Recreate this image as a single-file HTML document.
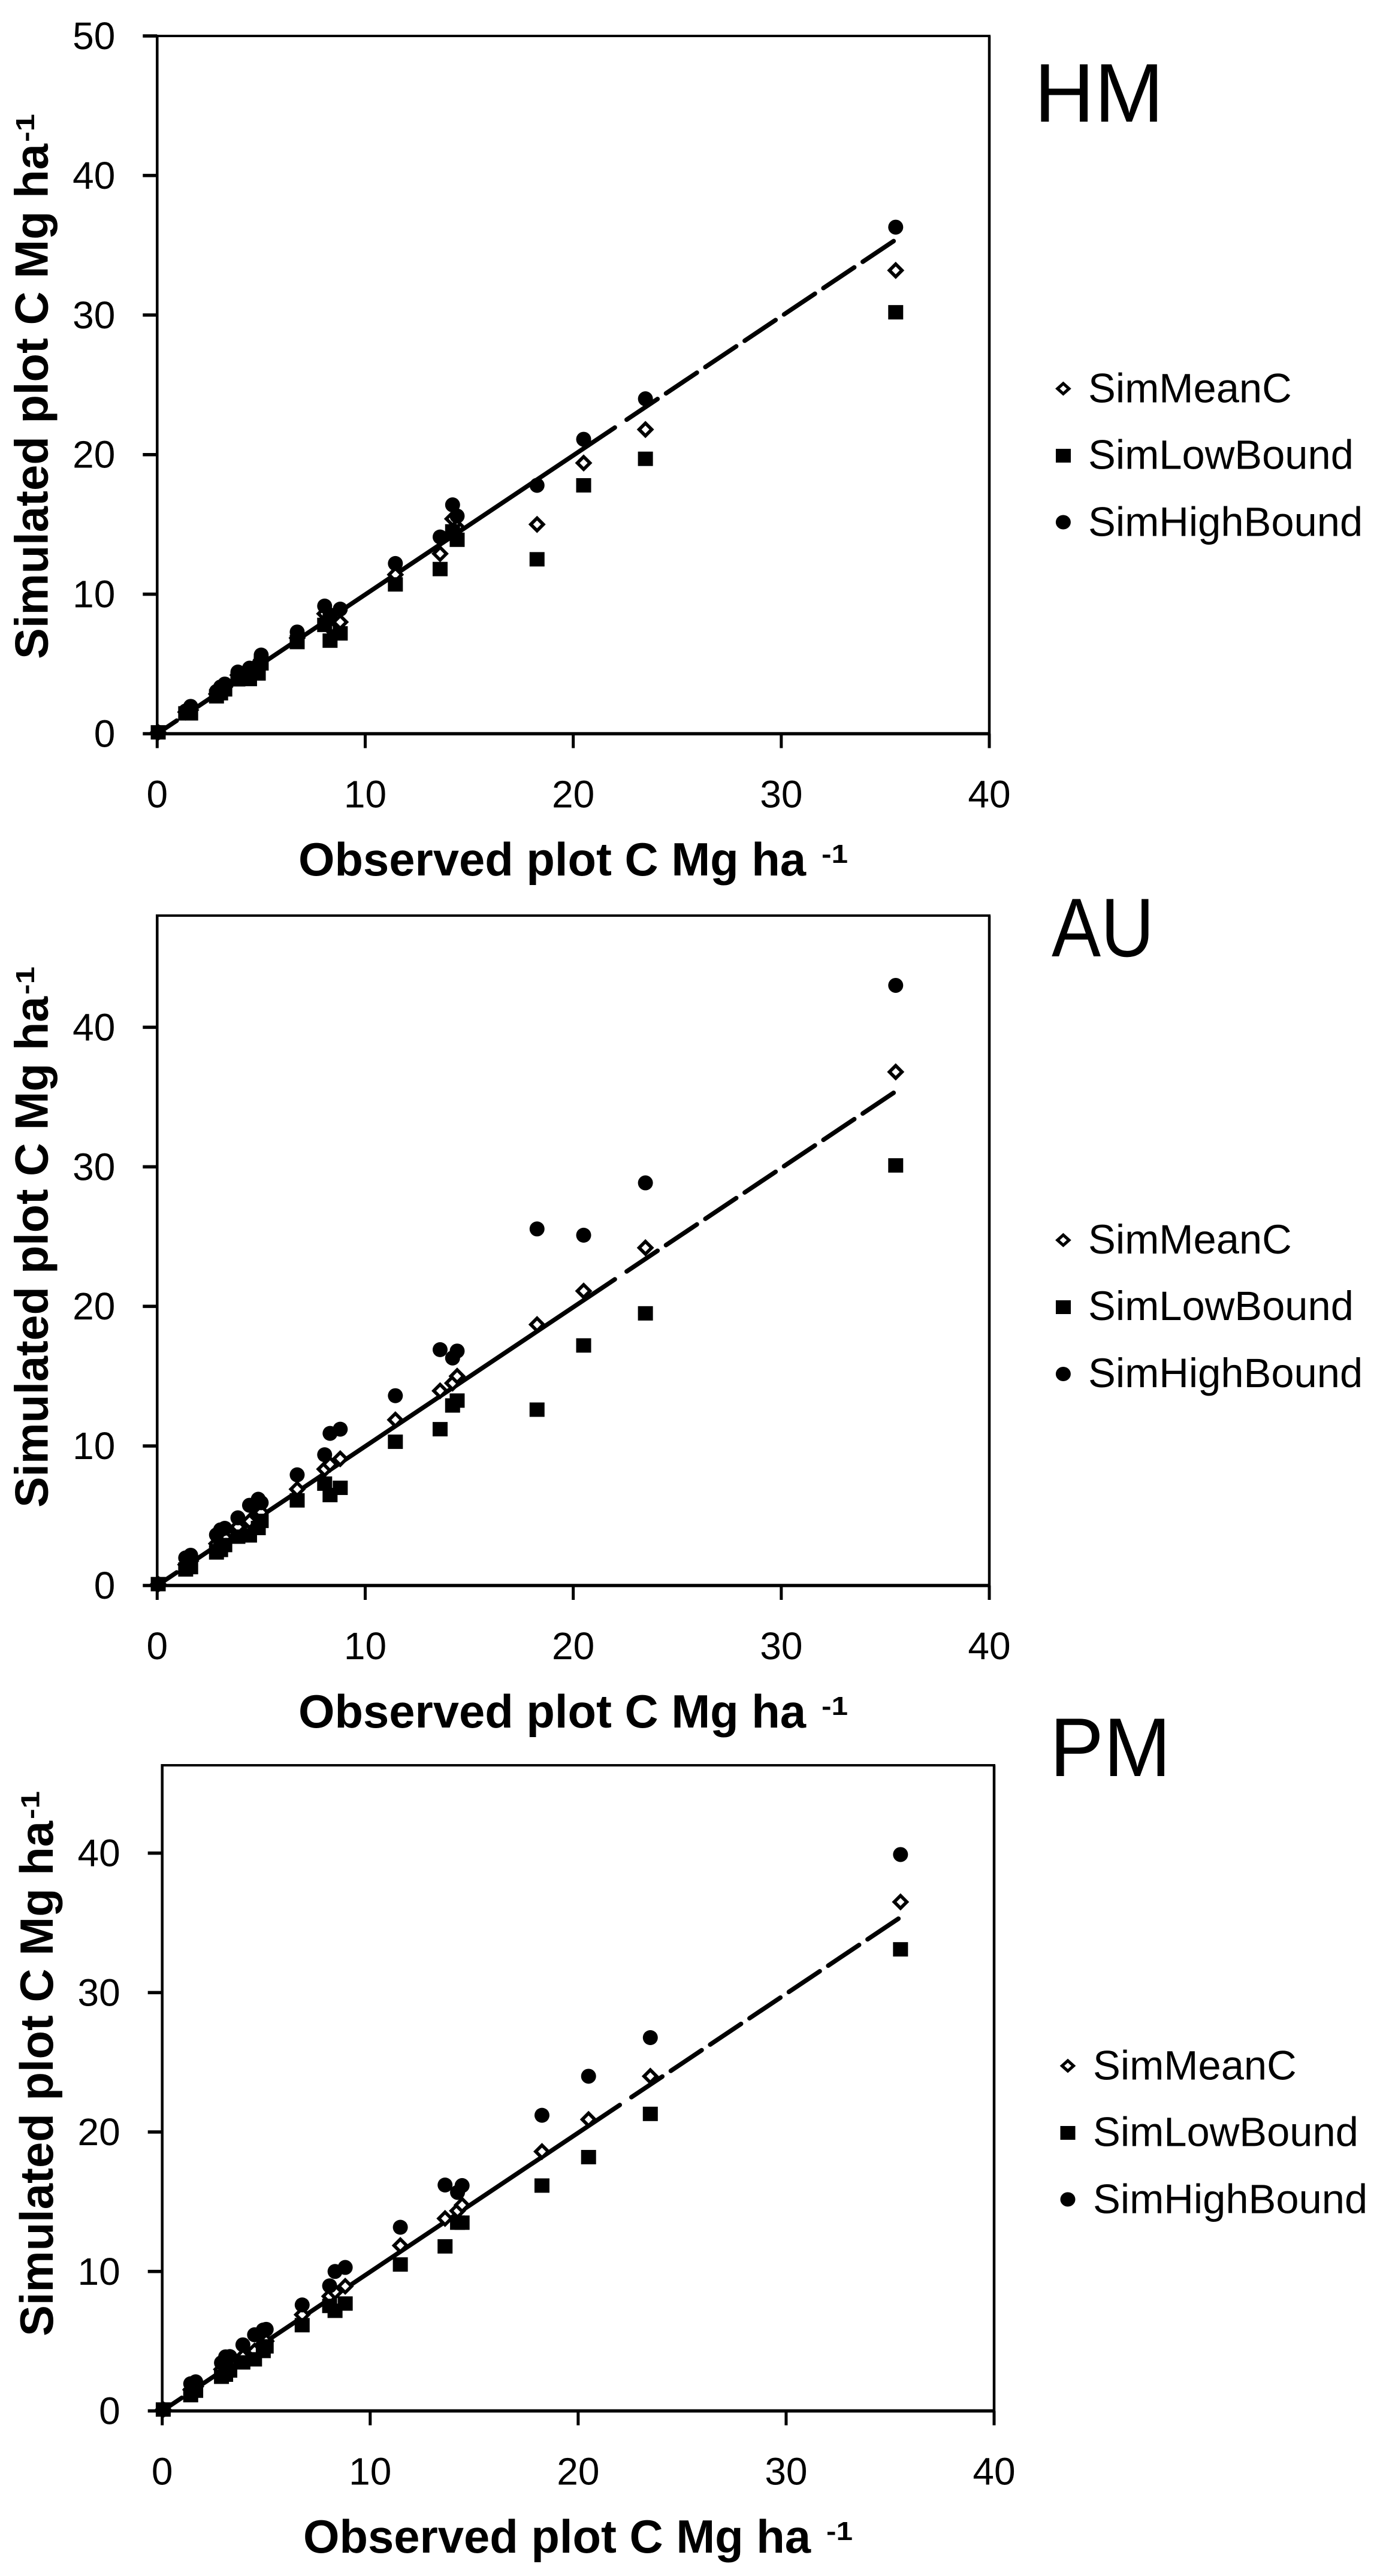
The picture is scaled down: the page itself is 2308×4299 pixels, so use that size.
<!DOCTYPE html>
<html lang="en">
<head>
<meta charset="utf-8">
<title>Simulated vs observed plot C: HM, AU, PM</title>
<style>
html,body{margin:0;padding:0;background:#fff;}
svg{display:block;}
text{font-family:"Liberation Sans",sans-serif;fill:#000;}
.bold{font-weight:bold;}
.tick{font-size:64px;}
.leg{font-size:68.7px;}
.tag{font-size:139px;}
.title{font-size:78px;font-weight:bold;}
.sup{font-size:44px;font-weight:bold;}
</style>
</head>
<body>
<svg id="figure" xmlns="http://www.w3.org/2000/svg" width="2308" height="4299" viewBox="0 0 2308 4299">
  <rect x="0" y="0" width="2308" height="4299" fill="#fff"/>

  <g id="panel-hm"></g>
  <g id="panel-au"></g>
  <g id="panel-pm"></g>

  <text class="tag" x="1726" y="203">HM</text>
  <text class="tag" x="1755" y="1596" textLength="171" lengthAdjust="spacingAndGlyphs">AU</text>
  <text class="tag" x="1752" y="2964" textLength="202" lengthAdjust="spacingAndGlyphs">PM</text>

  <text class="title" transform="translate(79.5,1100) rotate(-90)" textLength="860" lengthAdjust="spacingAndGlyphs">Simulated plot C Mg ha</text>
  <text class="sup" transform="translate(57,237) rotate(-90)" textLength="47" lengthAdjust="spacingAndGlyphs">-1</text>
  <text class="title" transform="translate(79.5,2516) rotate(-90)" textLength="853" lengthAdjust="spacingAndGlyphs">Simulated plot C Mg ha</text>
  <text class="sup" transform="translate(57,1660) rotate(-90)" textLength="47" lengthAdjust="spacingAndGlyphs">-1</text>
  <text class="title" transform="translate(88,3899) rotate(-90)" textLength="860" lengthAdjust="spacingAndGlyphs">Simulated plot C Mg ha</text>
  <text class="sup" transform="translate(65.5,3036) rotate(-90)" textLength="47" lengthAdjust="spacingAndGlyphs">-1</text>

  <text class="title" x="498" y="1461" textLength="847" lengthAdjust="spacingAndGlyphs">Observed plot C Mg ha</text>
  <text class="sup" x="1371" y="1440" textLength="44" lengthAdjust="spacingAndGlyphs">-1</text>
  <text class="title" x="498" y="2883" textLength="847" lengthAdjust="spacingAndGlyphs">Observed plot C Mg ha</text>
  <text class="sup" x="1371" y="2862" textLength="44" lengthAdjust="spacingAndGlyphs">-1</text>
  <text class="title" x="506" y="4260" textLength="847" lengthAdjust="spacingAndGlyphs">Observed plot C Mg ha</text>
  <text class="sup" x="1379" y="4239" textLength="44" lengthAdjust="spacingAndGlyphs">-1</text>

  <g>
    <polygon points="1774.4,640 1784,648.6 1774.4,657.2 1764.8,648.6" fill="#fff" stroke="#000" stroke-width="5"/>
    <rect x="1762" y="749" width="25" height="23" fill="#000"/>
    <ellipse cx="1774.4" cy="871.5" rx="12.5" ry="12" fill="#000"/>
    <text class="leg" x="1816" y="671.6">SimMeanC</text>
    <text class="leg" x="1816" y="782.6">SimLowBound</text>
    <text class="leg" x="1816" y="894.5">SimHighBound</text>
  </g>
  <g>
    <polygon points="1774.4,2061 1784,2069.6 1774.4,2078.2 1764.8,2069.6" fill="#fff" stroke="#000" stroke-width="5"/>
    <rect x="1762" y="2170" width="25" height="23" fill="#000"/>
    <ellipse cx="1774.4" cy="2293" rx="12.5" ry="12" fill="#000"/>
    <text class="leg" x="1816" y="2092">SimMeanC</text>
    <text class="leg" x="1816" y="2203">SimLowBound</text>
    <text class="leg" x="1816" y="2315">SimHighBound</text>
  </g>
  <g>
    <polygon points="1782,3439 1791.6,3447.6 1782,3456.2 1772.4,3447.6" fill="#fff" stroke="#000" stroke-width="5"/>
    <rect x="1769.5" y="3548" width="25" height="23" fill="#000"/>
    <ellipse cx="1782" cy="3670.5" rx="12.5" ry="12" fill="#000"/>
    <text class="leg" x="1824" y="3470.6">SimMeanC</text>
    <text class="leg" x="1824" y="3581.6">SimLowBound</text>
    <text class="leg" x="1824" y="3693.5">SimHighBound</text>
  </g>
</svg>

<script>
const observed = [0.05,1.37,1.61,2.85,3.05,3.25,3.88,4.44,4.86,5.0,6.73,8.05,8.31,8.8,11.45,13.6,14.2,14.42,18.26,20.5,23.47,35.5];

const hmMean = [0.1,1.55,1.7,2.85,3.1,3.35,4.2,4.3,4.6,5.3,6.86,8.6,7.6,8.0,11.4,12.9,15.4,14.8,15.0,19.4,21.8,33.2];
const hmLow  = [0.1,1.46,1.46,2.68,2.9,3.18,3.9,3.92,4.32,5.04,6.57,7.8,6.67,7.19,10.7,11.8,14.5,13.9,12.5,17.8,19.7,30.2];
const hmHigh = [0.1,1.63,1.96,3.03,3.35,3.56,4.42,4.7,4.9,5.64,7.29,9.15,8.5,8.93,12.2,14.1,16.4,15.6,17.8,21.1,24.0,36.3];

const auMean = [0.1,1.5,1.75,3.0,3.2,3.45,4.2,4.6,5.2,5.24,6.9,8.34,8.68,9.08,11.87,13.95,14.5,15.0,18.7,21.1,24.2,36.8];
const auLow  = [0.1,1.15,1.32,2.37,2.55,2.9,3.5,3.59,4.12,4.63,6.1,7.3,6.48,7.0,10.3,11.2,12.9,13.25,12.6,17.2,19.5,30.1];
const auHigh = [0.1,1.98,2.17,3.63,3.99,4.1,4.85,5.75,6.18,5.93,7.93,9.37,10.9,11.2,13.6,16.9,16.3,16.8,25.55,25.1,28.85,43.0];

const pmMean = [0.1,1.52,1.75,2.98,3.2,3.4,3.9,4.3,4.8,5.0,6.9,8.22,8.54,8.94,11.86,13.8,14.35,14.76,18.6,20.9,24.0,36.5];
const pmLow  = [0.1,1.13,1.45,2.45,2.6,2.9,3.48,3.7,4.3,4.63,6.15,7.53,7.18,7.7,10.5,11.8,13.5,13.5,16.16,18.2,21.3,33.1];
const pmHigh = [0.1,1.95,2.09,3.45,3.88,3.9,4.74,5.46,5.8,5.85,7.6,8.97,10.0,10.29,13.17,16.2,15.67,16.16,21.2,24.0,26.77,39.9];

const xTicks = [0,10,20,30,40];
const yTicksHm = [0,10,20,30,40,50];
const yTicksAu = [0,10,20,30,40];
const yTicksPm = [0,10,20,30,40];

const trendObserved = [0,35.4];
const trendSimulated = [0,35.3];
const trendSolidRanges = [[0,0.94],[1.35,22.0]];
const trendDashedRange = [22.2,35.4];

const NS = 'http://www.w3.org/2000/svg';

function make(parent, tag, attrs, text) {
  const el = document.createElementNS(NS, tag);
  for (const k in attrs) el.setAttribute(k, attrs[k]);
  if (text !== undefined) el.textContent = text;
  parent.appendChild(el);
  return el;
}

function drawPanel(id, key, meanVals, lowVals, highVals, yTicks, yMax, left, right, top, bottom) {
  const g = document.getElementById(id);
  const xScale = v => left + v * (right - left) / 40;
  const yScale = v => bottom - v * (bottom - top) / yMax;
  const trendY = v => trendSimulated[0] + (v - trendObserved[0]) * (trendSimulated[1] - trendSimulated[0]) / (trendObserved[1] - trendObserved[0]);

  trendSolidRanges.forEach(function (range) {
    const seg = make(g, 'line', {x1: xScale(range[0]), y1: yScale(trendY(range[0])), x2: xScale(range[1]), y2: yScale(trendY(range[1])), stroke: '#000', 'stroke-width': 7.5, 'stroke-linecap': 'round'});
    
    
  });
  const dashed = make(g, 'line', {x1: xScale(trendDashedRange[1]), y1: yScale(trendY(trendDashedRange[1])), x2: xScale(trendDashedRange[0]), y2: yScale(trendY(trendDashedRange[0])), stroke: '#000', 'stroke-width': 7.5, 'stroke-linecap': 'round', 'stroke-dasharray': '62 17'});
  
  

  const frameTop = make(g, 'line', {x1: left - 2, y1: top, x2: right + 2, y2: top, stroke: '#000', 'stroke-width': 4});
  
  
  const frameRight = make(g, 'line', {x1: right, y1: top, x2: right, y2: bottom, stroke: '#000', 'stroke-width': 4.5});
  
  
  const yAxis = make(g, 'line', {x1: left, y1: top - 2, x2: left, y2: bottom, stroke: '#000', 'stroke-width': 4.5});
  
  
  const xAxis = make(g, 'line', {x1: left, y1: bottom, x2: right + 2, y2: bottom, stroke: '#000', 'stroke-width': 5.5});
  
  

  xTicks.forEach(function (t) {
    const mark = make(g, 'line', {x1: xScale(t), y1: bottom, x2: xScale(t), y2: bottom + 24, stroke: '#000', 'stroke-width': 5});
    
    
    const label = make(g, 'text', {x: xScale(t), y: bottom + 123, 'text-anchor': 'middle', 'class': 'tick'}, String(t));
    
    
  });

  yTicks.forEach(function (t) {
    const mark = make(g, 'line', {x1: left - 24, y1: yScale(t), x2: left, y2: yScale(t), stroke: '#000', 'stroke-width': 5.5});
    
    
    const label = make(g, 'text', {x: left - 70, y: yScale(t) + 22, 'text-anchor': 'end', 'class': 'tick'}, String(t));
    
    
  });

  observed.forEach(function (o, i) {
    const cx = xScale(o), cy = yScale(meanVals[i]);
    const r = 10.5;
    const pts = [[cx, cy - r], [cx + r, cy], [cx, cy + r], [cx - r, cy]].map(p => p.join(',')).join(' ');
    const d = make(g, 'polygon', {points: pts, fill: '#fff', stroke: '#000', 'stroke-width': 5.6});
    
    
  });
  observed.forEach(function (o, i) {
    const s = make(g, 'rect', {x: xScale(o) - 12.5, y: yScale(lowVals[i]) - 12, width: 25, height: 24, fill: '#000'});
    
    
  });
  observed.forEach(function (o, i) {
    const c = make(g, 'circle', {cx: xScale(o), cy: yScale(highVals[i]), r: 12.5, fill: '#000'});
    
    
  });
}

drawPanel('panel-hm', 'hm', hmMean, hmLow, hmHigh, yTicksHm, 50, 262.3, 1651, 60, 1224.5);
drawPanel('panel-au', 'au', auMean, auLow, auHigh, yTicksAu, 48, 262.3, 1651, 1528, 2646);
drawPanel('panel-pm', 'pm', pmMean, pmLow, pmHigh, yTicksPm, 46.3, 270.7, 1659, 2946, 4023.5);
</script>
</body>
</html>
